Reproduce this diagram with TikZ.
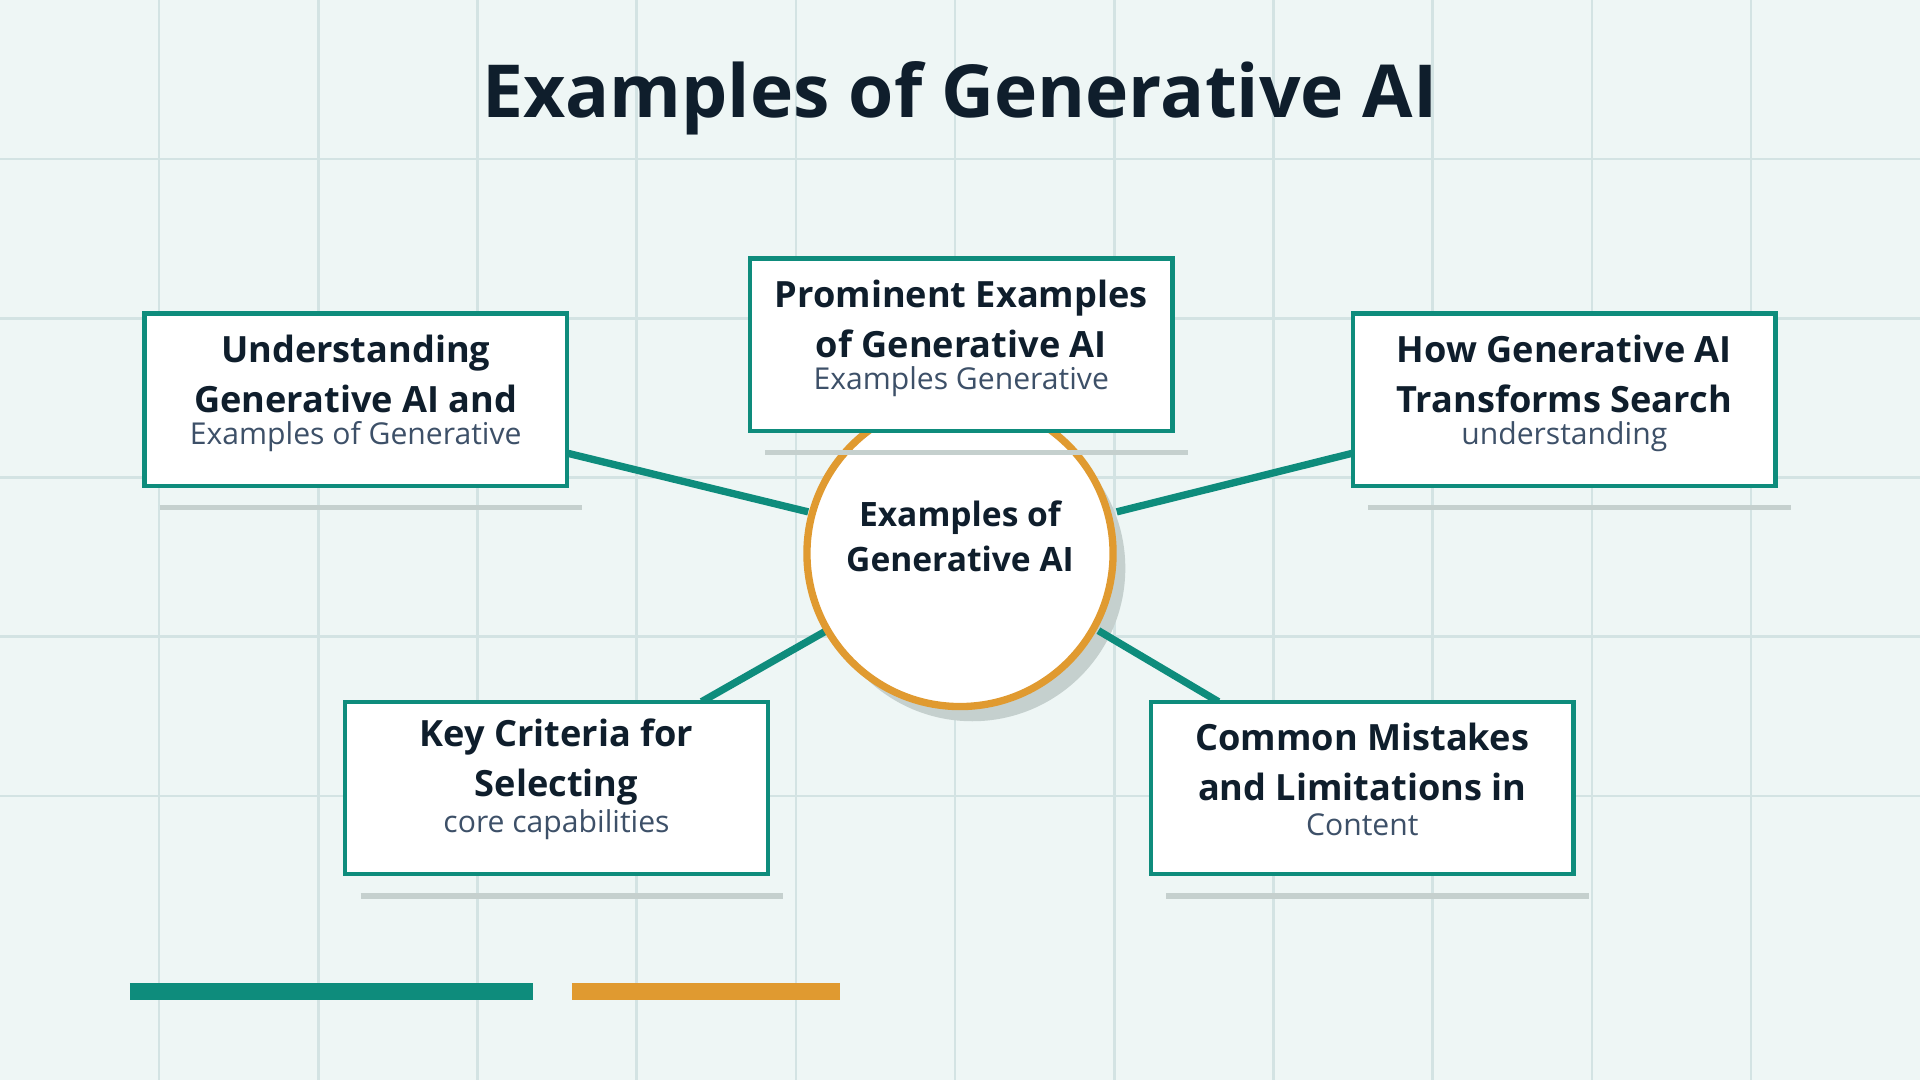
\documentclass[tikz,border=0pt]{standalone}
\usepackage{fontspec}
\setmainfont{Open Sans}
\usetikzlibrary{positioning,calc}
\definecolor{bgc}{HTML}{EEF6F5}
\definecolor{gridc}{HTML}{D3E3E3}
\definecolor{teal}{HTML}{0E8C7C}
\definecolor{gold}{HTML}{E09A30}
\definecolor{ink}{HTML}{0F1E2C}
\definecolor{subc}{HTML}{3D5068}
\definecolor{shadowc}{HTML}{C5D0CE}
\tikzset{
    box/.style = {draw=teal, fill=white, line width=1pt, rectangle,
        minimum width=3.45cm, minimum height=1.41cm},
    head/.style = {text=ink, font=\bfseries\fontsize{8.4}{11.6}\selectfont, align=center},
    sub/.style = {text=subc, font=\fontsize{7}{8}\selectfont},
    link/.style = {draw=teal, line width=1.7pt},
    bar/.style = {line width=4pt}
}
\begin{document}
\begin{tikzpicture}[x=1cm,y=-1cm]
    \fill[bgc] (0,0) rectangle (15.68,8.82);
    \useasboundingbox (0,0) rectangle (15.68,8.82);
    % grid
    \foreach \gx in {1.3,2.6,...,15.6} \draw[gridc, line width=0.6pt] (\gx,0) -- (\gx,8.82);
    \foreach \gy in {1.3,2.6,...,7.8} \draw[gridc, line width=0.6pt] (0,\gy) -- (15.68,\gy);
    \node[text=ink, font=\bfseries\fontsize{17}{20}\selectfont] (title) at (7.84,0.8) {Examples of Generative AI};
    % hub
    \coordinate (hub) at (7.84,4.52);
    \fill[shadowc] ($(hub)+(0.1,0.12)$) circle (1.25);
    % connectors
    \coordinate (c1) at (6.6,4.18);
    \coordinate (c3) at (9.12,4.18);
    \coordinate (c4) at (6.75,5.15);
    \coordinate (c5) at (8.97,5.15);
    \coordinate (b1) at (4.63,3.7);
    \coordinate (b3) at (11.05,3.7);
    \coordinate (b4) at (5.73,5.73);
    \coordinate (b5) at (9.95,5.73);
    \draw[link] (b1) -- (c1);
    \draw[link] (b3) -- (c3);
    \draw[link] (b4) -- (c4);
    \draw[link] (b5) -- (c5);
    \node[circle, draw=gold, line width=1.7pt, fill=white, minimum size=2.5cm,
        head, font=\bfseries\fontsize{7.8}{10.5}\selectfont] (hubnode) at (hub) {Examples of\\Generative AI\\[-0.3em]\mbox{}};
    % boxes
    \foreach \name/\bx/\by/\la/\lb/\sb in {
        und/2.905/3.265/Understanding/Generative AI and/Examples of Generative,
        pro/7.85/2.815/Prominent Examples/of Generative AI/Examples Generative,
        how/12.775/3.265/How Generative AI/Transforms Search/understanding,
        key/4.545/6.435/Key Criteria for/Selecting/core capabilities,
        com/11.125/6.435/Common Mistakes/and Limitations in/Content} {
        \draw[shadowc, line width=1.3pt] (\bx-1.6,\by+0.88) -- (\bx+1.85,\by+0.88);
        \node[box] (\name) at (\bx,\by) {};
        \node[head] (\name-t) at (\bx,\by-0.21) {\la\\\lb};
        \node[sub] (\name-s) at (\bx,\by+0.3) {\sb};
    }
    % bars
    \draw[teal, bar] (1.06,8.1) -- (4.35,8.1);
    \draw[gold, bar] (4.67,8.1) -- (6.86,8.1);
\end{tikzpicture}
\end{document}
